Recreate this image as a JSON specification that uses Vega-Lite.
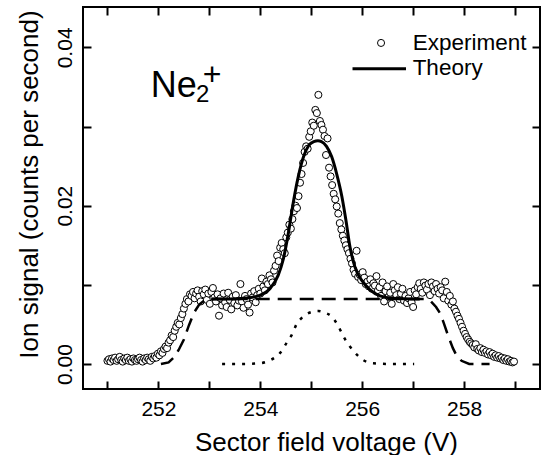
{
  "$schema": "https://vega.github.io/schema/vega-lite/v6.json",
  "width": 457,
  "height": 382,
  "autosize": "none",
  "padding": {"left": 83, "top": 7, "right": 2, "bottom": 66},
  "background": "white",
  "datasets": {
    "exp": [
      {"x":251.00,"y":0.0004},{"x":251.03,"y":0.0006},{"x":251.06,"y":0.0003},{"x":251.09,"y":0.0007},{"x":251.12,"y":0.0005},{"x":251.15,"y":0.0008},{"x":251.18,"y":0.0004},{"x":251.21,"y":0.0006},{"x":251.24,"y":0.0009},{"x":251.27,"y":0.0005},{"x":251.30,"y":0.0003},{"x":251.33,"y":0.0007},{"x":251.36,"y":0.0005},{"x":251.39,"y":0.0008},{"x":251.42,"y":0.0004},{"x":251.45,"y":0.0006},{"x":251.48,"y":0.0003},{"x":251.51,"y":0.0007},{"x":251.54,"y":0.0005},{"x":251.57,"y":0.0004},{"x":251.60,"y":0.0006},{"x":251.63,"y":0.0008},{"x":251.66,"y":0.0005},{"x":251.69,"y":0.0003},{"x":251.72,"y":0.0007},{"x":251.75,"y":0.0005},{"x":251.78,"y":0.0008},{"x":251.81,"y":0.0006},{"x":251.84,"y":0.0004},{"x":251.87,"y":0.0009},{"x":251.90,"y":0.0007},
      {"x":251.93,"y":0.0010},{"x":251.96,"y":0.0008},{"x":251.99,"y":0.0013},{"x":252.02,"y":0.0011},{"x":252.05,"y":0.0016},{"x":252.08,"y":0.0014},{"x":252.11,"y":0.0019},{"x":252.14,"y":0.0022},{"x":252.17,"y":0.0020},{"x":252.20,"y":0.0027},{"x":252.23,"y":0.0030},{"x":252.26,"y":0.0036},{"x":252.29,"y":0.0034},{"x":252.32,"y":0.0042},{"x":252.35,"y":0.0047},{"x":252.38,"y":0.0052},{"x":252.41,"y":0.0050},{"x":252.44,"y":0.0058},{"x":252.47,"y":0.0063},{"x":252.50,"y":0.0070},{"x":252.53,"y":0.0076},{"x":252.56,"y":0.0082},{"x":252.59,"y":0.0079},{"x":252.62,"y":0.0088},
      {"x":252.65,"y":0.0086},{"x":252.68,"y":0.0091},{"x":252.71,"y":0.0083},{"x":252.74,"y":0.0089},{"x":252.77,"y":0.0093},{"x":252.80,"y":0.0085},{"x":252.83,"y":0.0079},{"x":252.86,"y":0.0092},{"x":252.89,"y":0.0088},{"x":252.92,"y":0.0094},{"x":252.95,"y":0.0081},{"x":252.98,"y":0.0089},{"x":253.01,"y":0.0076},{"x":253.04,"y":0.0091},{"x":253.07,"y":0.0096},{"x":253.10,"y":0.0084},{"x":253.13,"y":0.0079},{"x":253.16,"y":0.0088},{"x":253.19,"y":0.0061},{"x":253.22,"y":0.0083},{"x":253.25,"y":0.0074},{"x":253.28,"y":0.0089},
      {"x":253.31,"y":0.0078},{"x":253.34,"y":0.0072},{"x":253.37,"y":0.0090},{"x":253.40,"y":0.0081},{"x":253.43,"y":0.0069},{"x":253.46,"y":0.0085},{"x":253.49,"y":0.0077},{"x":253.52,"y":0.0087},{"x":253.55,"y":0.0074},{"x":253.58,"y":0.0080},{"x":253.61,"y":0.0101},{"x":253.64,"y":0.0079},{"x":253.67,"y":0.0071},{"x":253.70,"y":0.0086},{"x":253.73,"y":0.0082},{"x":253.76,"y":0.0075},{"x":253.79,"y":0.0065},{"x":253.82,"y":0.0089},{"x":253.85,"y":0.0084},{"x":253.88,"y":0.0092},{"x":253.91,"y":0.0078},{"x":253.94,"y":0.0087},{"x":253.97,"y":0.0095},{"x":254.00,"y":0.0089},
      {"x":254.03,"y":0.0108},{"x":254.06,"y":0.0098},{"x":254.09,"y":0.0093},{"x":254.12,"y":0.0104},{"x":254.15,"y":0.0101},{"x":254.18,"y":0.0112},{"x":254.21,"y":0.0107},{"x":254.24,"y":0.0103},{"x":254.27,"y":0.0118},{"x":254.30,"y":0.0124},{"x":254.33,"y":0.0137},{"x":254.36,"y":0.0130},{"x":254.39,"y":0.0147},{"x":254.42,"y":0.0153},{"x":254.45,"y":0.0145},{"x":254.48,"y":0.0140},{"x":254.51,"y":0.0160},{"x":254.54,"y":0.0166},{"x":254.57,"y":0.0176},{"x":254.60,"y":0.0171},
      {"x":254.63,"y":0.0183},{"x":254.66,"y":0.0193},{"x":254.69,"y":0.0200},{"x":254.72,"y":0.0197},{"x":254.75,"y":0.0212},{"x":254.78,"y":0.0229},{"x":254.81,"y":0.0240},{"x":254.84,"y":0.0254},{"x":254.87,"y":0.0268},{"x":254.90,"y":0.0275},{"x":254.93,"y":0.0272},{"x":254.96,"y":0.0287},{"x":254.99,"y":0.0294},{"x":255.02,"y":0.0305},{"x":255.05,"y":0.0301},{"x":255.08,"y":0.0321},{"x":255.11,"y":0.0317},{"x":255.14,"y":0.0340},{"x":255.17,"y":0.0307},{"x":255.20,"y":0.0302},{"x":255.23,"y":0.0296},{"x":255.26,"y":0.0288},{"x":255.29,"y":0.0264},{"x":255.32,"y":0.0285},{"x":255.35,"y":0.0248},{"x":255.38,"y":0.0237},{"x":255.41,"y":0.0226},{"x":255.44,"y":0.0215},{"x":255.47,"y":0.0208},{"x":255.50,"y":0.0199},
      {"x":255.53,"y":0.0190},{"x":255.56,"y":0.0178},{"x":255.59,"y":0.0170},{"x":255.62,"y":0.0162},{"x":255.65,"y":0.0156},{"x":255.68,"y":0.0150},{"x":255.71,"y":0.0145},{"x":255.74,"y":0.0140},{"x":255.77,"y":0.0133},{"x":255.80,"y":0.0127},{"x":255.83,"y":0.0119},{"x":255.86,"y":0.0114},{"x":255.89,"y":0.0143},{"x":255.92,"y":0.0110},{"x":255.95,"y":0.0113},{"x":255.98,"y":0.0106},{"x":256.01,"y":0.0116},{"x":256.04,"y":0.0109},{"x":256.07,"y":0.0101},{"x":256.10,"y":0.0104},{"x":256.13,"y":0.0098},{"x":256.16,"y":0.0107},{"x":256.19,"y":0.0095},{"x":256.22,"y":0.0102},{"x":256.25,"y":0.0099},{"x":256.28,"y":0.0111},{"x":256.31,"y":0.0093},{"x":256.34,"y":0.0097},{"x":256.37,"y":0.0086},{"x":256.40,"y":0.0103},
      {"x":256.43,"y":0.0079},{"x":256.46,"y":0.0092},{"x":256.49,"y":0.0098},{"x":256.52,"y":0.0085},{"x":256.55,"y":0.0090},{"x":256.58,"y":0.0076},{"x":256.61,"y":0.0101},{"x":256.64,"y":0.0093},{"x":256.67,"y":0.0087},{"x":256.70,"y":0.0097},{"x":256.73,"y":0.0082},{"x":256.76,"y":0.0089},{"x":256.79,"y":0.0095},{"x":256.82,"y":0.0080},{"x":256.85,"y":0.0086},{"x":256.88,"y":0.0077},{"x":256.91,"y":0.0083},{"x":256.94,"y":0.0091},{"x":256.97,"y":0.0078},{"x":257.00,"y":0.0072},
      {"x":257.03,"y":0.0093},{"x":257.06,"y":0.0088},{"x":257.09,"y":0.0097},{"x":257.12,"y":0.0102},{"x":257.15,"y":0.0095},{"x":257.18,"y":0.0090},{"x":257.21,"y":0.0103},{"x":257.24,"y":0.0099},{"x":257.27,"y":0.0094},{"x":257.30,"y":0.0101},{"x":257.33,"y":0.0087},{"x":257.36,"y":0.0103},{"x":257.39,"y":0.0098},{"x":257.42,"y":0.0092},{"x":257.45,"y":0.0101},{"x":257.48,"y":0.0095},{"x":257.51,"y":0.0089},{"x":257.54,"y":0.0097},{"x":257.57,"y":0.0093},{"x":257.60,"y":0.0083},{"x":257.63,"y":0.0104},{"x":257.66,"y":0.0091},{"x":257.69,"y":0.0080},{"x":257.72,"y":0.0086},{"x":257.75,"y":0.0075},{"x":257.78,"y":0.0079},{"x":257.81,"y":0.0070},{"x":257.84,"y":0.0066},{"x":257.87,"y":0.0061},{"x":257.90,"y":0.0057},
      {"x":257.93,"y":0.0052},{"x":257.96,"y":0.0047},{"x":257.99,"y":0.0042},{"x":258.02,"y":0.0038},{"x":258.05,"y":0.0034},{"x":258.08,"y":0.0031},{"x":258.11,"y":0.0028},{"x":258.14,"y":0.0026},{"x":258.17,"y":0.0024},{"x":258.20,"y":0.0021},{"x":258.23,"y":0.0025},{"x":258.26,"y":0.0019},{"x":258.29,"y":0.0017},{"x":258.32,"y":0.0020},{"x":258.35,"y":0.0015},{"x":258.38,"y":0.0018},{"x":258.41,"y":0.0014},{"x":258.44,"y":0.0016},{"x":258.47,"y":0.0012},{"x":258.50,"y":0.0015},{"x":258.53,"y":0.0011},{"x":258.56,"y":0.0013},{"x":258.59,"y":0.0009},{"x":258.62,"y":0.0011},{"x":258.65,"y":0.0008},{"x":258.68,"y":0.0010},{"x":258.71,"y":0.0007},{"x":258.74,"y":0.0008},{"x":258.77,"y":0.0005},{"x":258.80,"y":0.0007},{"x":258.83,"y":0.0004},{"x":258.86,"y":0.0006},{"x":258.89,"y":0.0003},{"x":258.92,"y":0.0004},{"x":258.95,"y":0.0002},{"x":258.98,"y":0.0003}
    ],
    "theory": [
      {"x":253.05,"y":0.0082},{"x":253.4,"y":0.0082},{"x":253.7,"y":0.0083},{"x":254.0,"y":0.0087},{"x":254.2,"y":0.0096},{"x":254.35,"y":0.0112},{"x":254.45,"y":0.0132},{"x":254.55,"y":0.0165},{"x":254.65,"y":0.0205},{"x":254.75,"y":0.0238},{"x":254.85,"y":0.0262},{"x":254.95,"y":0.0276},{"x":255.05,"y":0.0281},{"x":255.13,"y":0.0282},{"x":255.2,"y":0.0281},{"x":255.3,"y":0.0275},{"x":255.4,"y":0.0262},{"x":255.5,"y":0.024},{"x":255.6,"y":0.0212},{"x":255.68,"y":0.0182},{"x":255.76,"y":0.0148},{"x":255.86,"y":0.0122},{"x":256.0,"y":0.0105},{"x":256.15,"y":0.0094},{"x":256.35,"y":0.0086},{"x":256.6,"y":0.0083},{"x":257.13,"y":0.0082}
    ],
    "bg": [
      {"x":252.05,"y":0.0},{"x":252.2,"y":0.0002},{"x":252.3,"y":0.0008},{"x":252.4,"y":0.0018},{"x":252.5,"y":0.0031},{"x":252.6,"y":0.0049},{"x":252.7,"y":0.0065},{"x":252.8,"y":0.0075},{"x":252.9,"y":0.008},{"x":253.0,"y":0.0082},{"x":257.25,"y":0.0082},{"x":257.35,"y":0.0079},{"x":257.45,"y":0.0072},{"x":257.53,"y":0.0064},{"x":257.6,"y":0.0052},{"x":257.69,"y":0.0035},{"x":257.78,"y":0.002},{"x":257.85,"y":0.0011},{"x":257.95,"y":0.0004},{"x":258.1,"y":0.0},{"x":258.5,"y":0.0}
    ],
    "peak": [
      {"x":253.25,"y":0.0},{"x":253.6,"y":0.0},{"x":254.0,"y":0.0001},{"x":254.2,"y":0.0005},{"x":254.39,"y":0.0014},{"x":254.52,"y":0.0027},{"x":254.62,"y":0.0037},{"x":254.71,"y":0.005},{"x":254.81,"y":0.0058},{"x":254.91,"y":0.0063},{"x":255.02,"y":0.0066},{"x":255.14,"y":0.0067},{"x":255.26,"y":0.0065},{"x":255.4,"y":0.006},{"x":255.53,"y":0.0048},{"x":255.63,"y":0.0035},{"x":255.76,"y":0.0022},{"x":255.89,"y":0.0012},{"x":256.02,"y":0.0005},{"x":256.22,"y":0.0001},{"x":256.6,"y":0.0},{"x":257.02,"y":0.0}
    ],
    "legend": [
      {"label": "Experiment", "lx": 256.37, "tx": 256.99, "sy": 0.04056, "ty": 0.03962},
      {"label": "Theory", "lx": 255.81, "lx2": 256.86, "tx": 256.99, "sy": 0.03731, "ty": 0.03655}
    ],
    "ion": [
      {"part": "Ne", "px": 251.85, "py": 0.03373, "fs": 36},
      {"part": "2", "px": 252.74, "py": 0.03305, "fs": 24},
      {"part": "+", "px": 252.87, "py": 0.03525, "fs": 32}
    ]
  },
  "layer": [
    {
      "data": {"name": "exp"},
      "mark": {"type": "point", "shape": "circle", "size": 50, "filled": true, "fill": "white", "stroke": "black", "strokeWidth": 1, "opacity": 1},
      "encoding": {
        "x": {"field": "x", "type": "quantitative", "scale": {"domain": [250.52, 259.49], "nice": false, "zero": false},
          "axis": {"orient": "bottom", "values": [251,252,253,254,255,256,257,258,259], "format": "d",
            "labelExpr": "datum.value % 2 == 0 ? datum.label : ''",
            "tickSize": -8, "labelPadding": 17.8, "labelFontSize": 21, "labelBaseline": "top", "labelAlign": "center",
            "labelFlush": false, "labelOverlap": false,
            "title": "Sector field voltage (V)", "titleFontSize": 26, "titleX": 243, "titleY": 61, "titleAlign": "center", "titleBaseline": "alphabetic"}},
        "y": {"field": "y", "type": "quantitative", "scale": {"domain": [-0.00316, 0.0451], "nice": false, "zero": false},
          "axis": {"orient": "left", "values": [0, 0.01, 0.02, 0.03, 0.04],
            "labelExpr": "round(datum.value*100) % 2 == 0 ? format(datum.value, '.2f') : ''",
            "tickSize": -8, "labelPadding": 19.3, "labelFontSize": 21, "labelAngle": -90, "labelAlign": "center", "labelBaseline": "alphabetic",
            "labelFlush": false, "labelOverlap": false,
            "title": "Ion signal (counts per second)", "titleFontSize": 26, "titleAngle": -90, "titleX": -54, "titleY": 177, "titleAlign": "center", "titleBaseline": "middle"}}
      }
    },
    {
      "data": {"name": "bg"},
      "mark": {"type": "line", "color": "black", "strokeWidth": 2.5, "strokeDash": [14, 8]},
      "encoding": {
        "x": {"field": "x", "type": "quantitative",
          "axis": {"orient": "top", "values": [251,252,253,254,255,256,257,258,259], "labels": false, "tickSize": -8, "title": null}},
        "y": {"field": "y", "type": "quantitative",
          "axis": {"orient": "right", "values": [0, 0.01, 0.02, 0.03, 0.04], "labels": false, "tickSize": -8, "title": null}}
      }
    },
    {
      "data": {"name": "peak"},
      "mark": {"type": "line", "color": "black", "strokeWidth": 2.5, "strokeDash": [3, 7], "interpolate": "monotone"},
      "encoding": {
        "x": {"field": "x", "type": "quantitative", "axis": null},
        "y": {"field": "y", "type": "quantitative", "axis": null}
      }
    },
    {
      "data": {"name": "theory"},
      "mark": {"type": "line", "color": "black", "strokeWidth": 3, "interpolate": "monotone"},
      "encoding": {
        "x": {"field": "x", "type": "quantitative", "axis": null},
        "y": {"field": "y", "type": "quantitative", "axis": null}
      }
    },
    {
      "data": {"name": "legend"},
      "transform": [{"filter": "datum.label == 'Experiment'"}],
      "mark": {"type": "point", "shape": "circle", "size": 50, "filled": true, "fill": "white", "stroke": "black", "strokeWidth": 1, "opacity": 1},
      "encoding": {
        "x": {"field": "lx", "type": "quantitative", "axis": null},
        "y": {"field": "sy", "type": "quantitative", "axis": null}
      }
    },
    {
      "data": {"name": "legend"},
      "transform": [{"filter": "datum.label == 'Theory'"}],
      "mark": {"type": "rule", "color": "black", "strokeWidth": 3},
      "encoding": {
        "x": {"field": "lx", "type": "quantitative", "axis": null},
        "x2": {"field": "lx2"},
        "y": {"field": "sy", "type": "quantitative", "axis": null}
      }
    },
    {
      "data": {"name": "legend"},
      "mark": {"type": "text", "align": "left", "baseline": "alphabetic", "fontSize": 22.5, "font": "Liberation Sans", "color": "black"},
      "encoding": {
        "x": {"field": "tx", "type": "quantitative", "axis": null},
        "y": {"field": "ty", "type": "quantitative", "axis": null},
        "text": {"field": "label"}
      }
    },
    {
      "data": {"name": "ion"},
      "mark": {"type": "text", "align": "left", "baseline": "alphabetic", "font": "Liberation Sans", "color": "black"},
      "encoding": {
        "x": {"field": "px", "type": "quantitative", "axis": null},
        "y": {"field": "py", "type": "quantitative", "axis": null},
        "text": {"field": "part"},
        "size": {"field": "fs", "type": "quantitative", "scale": null}
      }
    }
  ],
  "resolve": {"axis": {"x": "independent", "y": "independent"}},
  "config": {
    "view": {"stroke": "black", "strokeWidth": 2},
    "font": "Liberation Sans",
    "axis": {"labelFont": "Liberation Sans", "titleFont": "Liberation Sans", "labelColor": "black", "titleColor": "black", "tickColor": "black", "tickWidth": 2, "domain": false, "grid": false, "titleFontWeight": "normal"}
  }
}
